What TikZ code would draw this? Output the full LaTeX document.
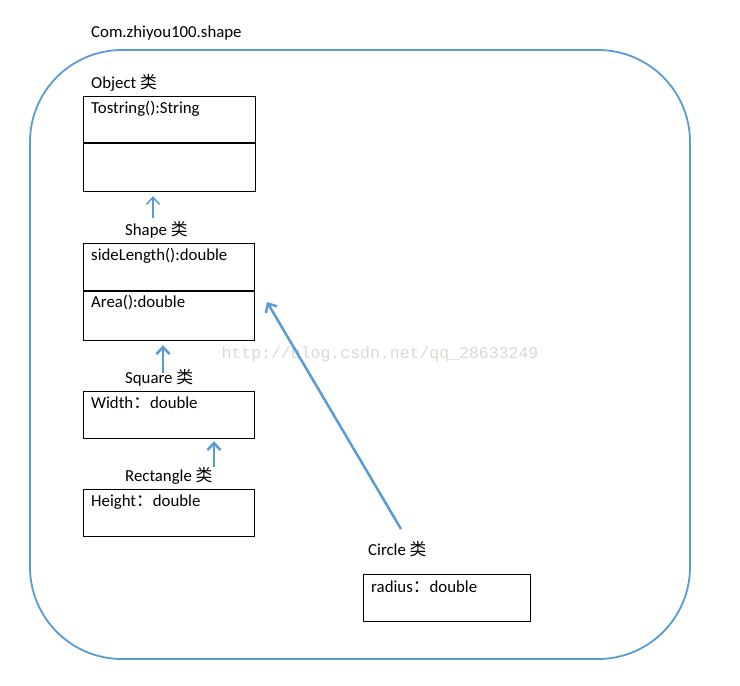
\documentclass[tikz,border=0pt]{standalone}
\usepackage{fontspec}
\setmainfont{Carlito}
\newfontfamily\cjk{Noto Sans CJK SC}
\newfontfamily\wmfont{Liberation Mono}
\usetikzlibrary{arrows.meta}
\definecolor{offblue}{RGB}{91,155,213}
\definecolor{wmgray}{RGB}{218,218,212}
\tikzset{
  box/.style={draw=black, line width=1.2pt, rectangle, anchor=north west, inner sep=0pt},
  lbl/.style={anchor=west, inner sep=0pt, font=\fontsize{16.8}{18}\selectfont},
  txt/.style={anchor=west, inner sep=0pt, font=\fontsize{16.8}{18}\selectfont},
  arr/.style={draw=offblue, line width=2.5pt, -{Straight Barb[length=7pt,width=13pt]}},
  frame/.style={draw=offblue, line width=1.8pt, rounded corners=92pt}
}
\begin{document}
\begin{tikzpicture}[x=1pt,y=-1pt]
\useasboundingbox (0,0) rectangle (740,686);
\fill[white] (0,0) rectangle (740,686);
\draw[frame] (30,50) rectangle (690,659);
\node[lbl] (title) at (91,33) {Com.zhiyou100.shape};
% Object
\node[lbl] (objl) at (91,83) {Object {\cjk 类}};
\node[box, minimum width=172pt, minimum height=95pt] (obj) at (83,96) {};
\draw[line width=1.2pt] (83,143) -- (255,143);
\node[txt] (objt) at (91,109) {Tostring():String};
% Shape
\node[lbl] (shpl) at (125,230) {Shape {\cjk 类}};
\node[box, minimum width=171pt, minimum height=97pt] (shp) at (83,243) {};
\draw[line width=1.2pt] (83,291) -- (254,291);
\node[txt] (shpt1) at (91,256) {sideLength():double};
\node[txt] (shpt2) at (91,303) {Area():double};
% Square
\node[lbl] (sqrl) at (125,378) {Square {\cjk 类}};
\node[box, minimum width=171pt, minimum height=47pt] (sqr) at (83,391) {};
\node[txt] (sqrt) at (91,403) {Width{\cjk ：}double};
% Rectangle
\node[lbl] (recl) at (125,476) {Rectangle {\cjk 类}};
\node[box, minimum width=171pt, minimum height=47pt] (rec) at (83,489) {};
\node[txt] (rect) at (91,502) {Height{\cjk ：}double};
% Circle
\node[lbl] (cirl) at (368,549) {Circle {\cjk 类}};
\node[box, minimum width=167pt, minimum height=47pt] (cir) at (363,574) {};
\node[txt] (cirt) at (371,587) {radius{\cjk ：}double};
% watermark
\node[inner sep=0pt, text=wmgray, font=\wmfont\fontsize{16.5}{18}\selectfont] (wm) at (380,354) {http://blog.csdn.net/qq\_28633249};
% arrows
\coordinate (a1) at (153,218);
\draw[arr, line width=1.5pt] (a1) -- (a1 |- obj.south) [shorten >=4pt];
\coordinate (a2) at (163,373);
\draw[arr] (a2) -- (a2 |- shp.south) [shorten >=4pt];
\coordinate (a3) at (214,467);
\draw[arr] (a3) -- (a3 |- sqr.south) [shorten >=2pt];
\coordinate (a4s) at (401,529);
\coordinate (a4e) at (267,302);
\draw[arr] (a4s) -- (a4e);
\end{tikzpicture}
\end{document}
